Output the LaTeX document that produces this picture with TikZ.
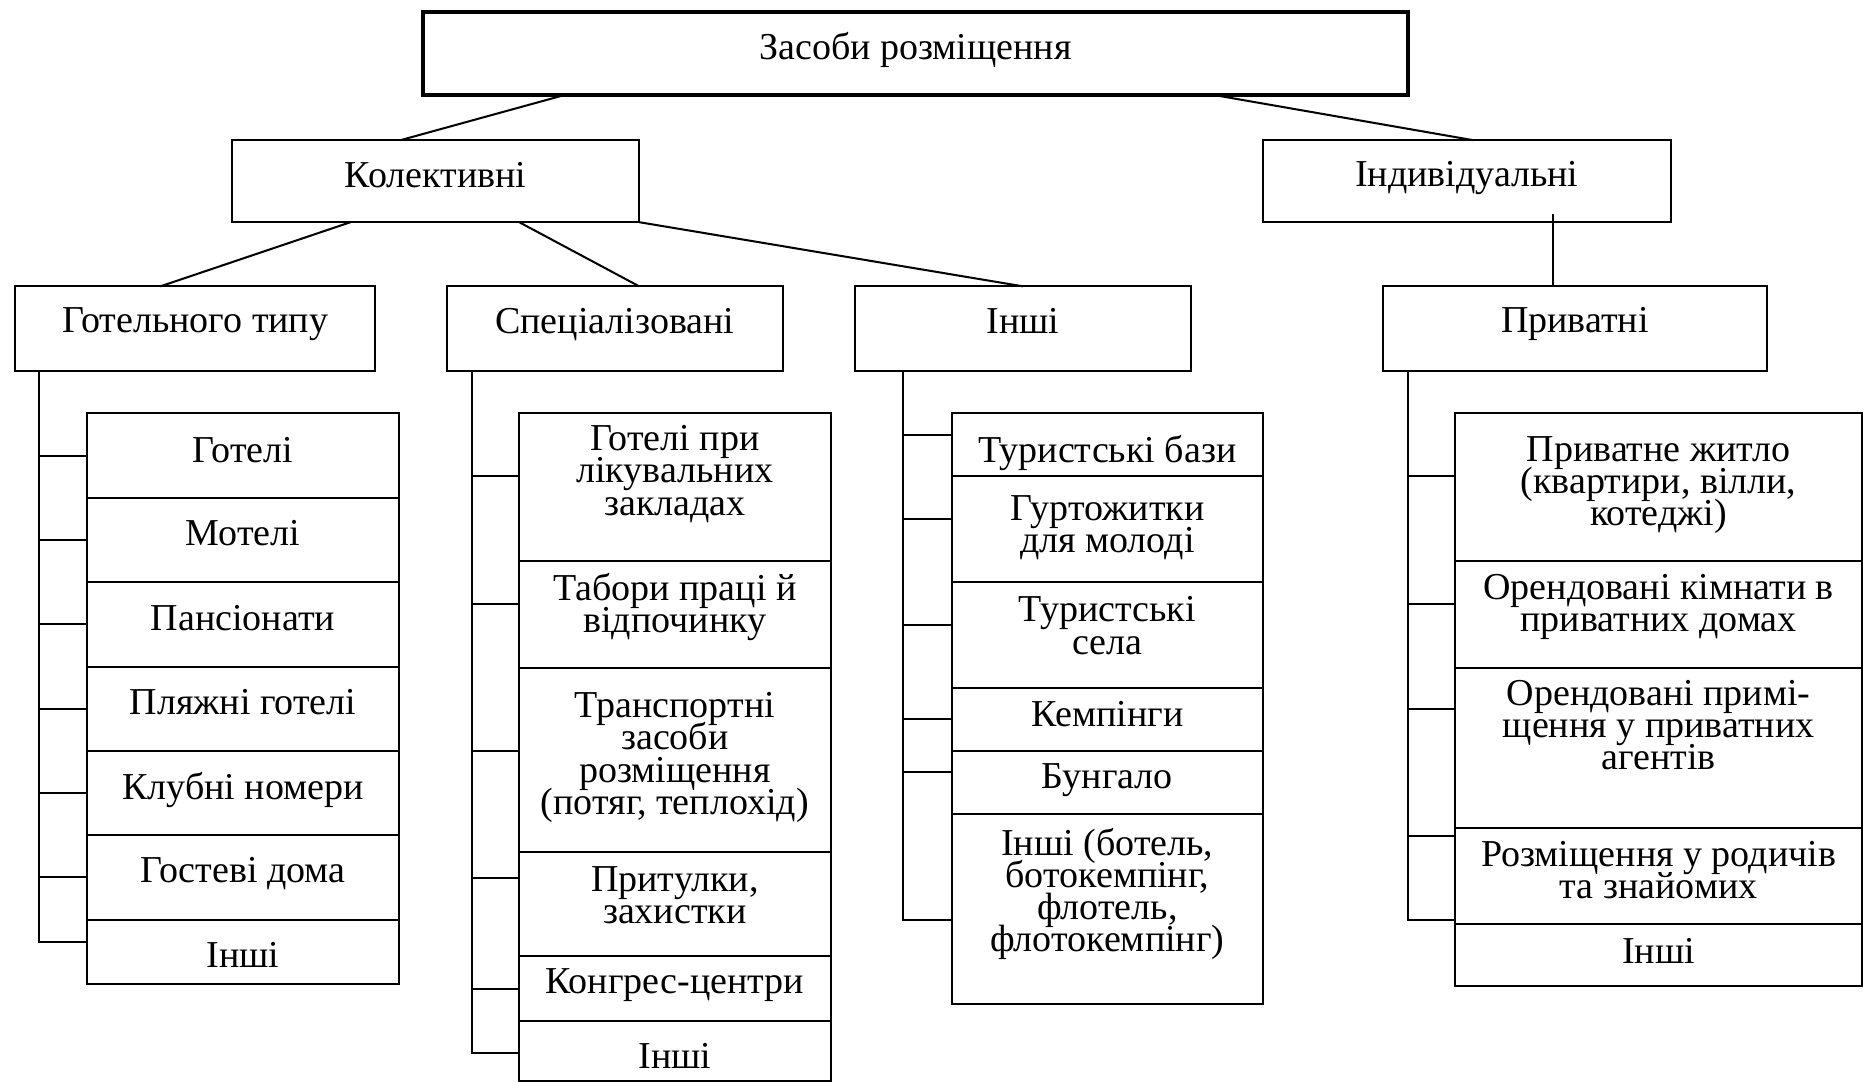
\documentclass[tikz,border=0pt]{standalone}
\usepackage{fontspec}
\setmainfont{Liberation Serif}
\setlength{\lineskiplimit}{-50pt}
\tikzset{
  cell/.style = {draw, line width=1.7pt, inner sep=0pt, outer sep=0pt},
  colA/.style = {cell, minimum width=263pt},
  colB/.style = {cell, minimum width=262pt},
  colC/.style = {cell, minimum width=262pt},
  colD/.style = {cell, minimum width=342pt},
  txt/.style = {font=\fontsize{32}{27}\selectfont, align=center, inner sep=0pt},
  link/.style = {line width=1.7pt}
}

\begin{document}
\begin{tikzpicture}[x=1pt, y=-1pt]
    \useasboundingbox (0,0) rectangle (1568,911);
    % top levels
    \node[cell, line width=3pt, minimum width=829pt, minimum height=70pt] (root) at (770.5,45) {};
    \node[txt] (roott) at ([yshift=3pt]root.center) {Засоби розміщення};
    \node[cell, minimum width=343pt, minimum height=69pt] (kol) at (366.5,152.5) {};
    \node[txt] (kolt) at ([yshift=5.5pt]kol.center) {Колективні};
    \node[cell, minimum width=343pt, minimum height=69pt] (ind) at (1234.5,152.5) {};
    \node[txt] (indt) at ([yshift=2.5pt]ind.center) {Індивідуальні};
    \node[cell, minimum width=303pt, minimum height=71pt] (got) at (164.5,276.5) {};
    \node[txt] (gott) at ([yshift=3.5pt]got.center) {Готельного типу};
    \node[cell, minimum width=283pt, minimum height=71pt] (spe) at (517.5,276.5) {};
    \node[txt] (spet) at ([yshift=3.5pt]spe.center) {Спеціалізовані};
    \node[cell, minimum width=282pt, minimum height=71pt] (inshi) at (861,276.5) {};
    \node[txt] (inshit) at ([yshift=6.5pt]inshi.center) {Інші};
    \node[cell, minimum width=323pt, minimum height=71pt] (pryv) at (1325.5,276.5) {};
    \node[txt] (pryvt) at ([yshift=3.5pt]pryv.center) {Приватні};

    \draw[link] ([xshift=119pt]root.south west) -- ([xshift=142pt]kol.north west);
    \draw[link] ([xshift=-163pt]root.south east) -- ([xshift=5.5pt]ind.north);
    \draw[link] ([xshift=100pt]kol.south west) -- ([xshift=122pt]got.north west);
    \draw[link] ([xshift=70.5pt]kol.south) -- ([xshift=20.5pt]spe.north);
    \draw[link] (kol.south east) -- (inshi.north);
    \draw[link] ([xshift=-18.5pt]pryv.north) -- ([xshift=-18.5pt, yshift=7pt]pryv.north |- ind.south);

    % hotel type
    \node[colA, minimum height=71pt] (g1) at (204.5,383.5) {};
    \node[txt] (g1t) at ([yshift=5pt]g1.center) {Готелі};
    \node[colA, minimum height=71pt] (g2) at (204.5,454.5) {};
    \node[txt] (g2t) at ([yshift=6pt]g2.center) {Мотелі};
    \node[colA, minimum height=71pt] (g3) at (204.5,525.5) {};
    \node[txt] (g3t) at ([yshift=5pt]g3.center) {Пансіонати};
    \node[colA, minimum height=71pt] (g4) at (204.5,596.5) {};
    \node[txt] (g4t) at ([yshift=6pt]g4.center) {Пляжні готелі};
    \node[colA, minimum height=71pt] (g5) at (204.5,667.5) {};
    \node[txt] (g5t) at ([yshift=3pt]g5.center) {Клубні номери};
    \node[colA, minimum height=71pt] (g6) at (204.5,738.5) {};
    \node[txt] (g6t) at ([yshift=3pt]g6.center) {Гостеві дома};
    \node[colA, minimum height=54pt] (g7) at (204.5,801) {};
    \node[txt] (g7t) at ([yshift=-3pt]g7.center) {Інші};

    \coordinate (t1) at ([xshift=20pt]got.south west);
    \draw[link] (g1.west) -- (g1.west -| t1);
    \draw[link] (g2.west) -- (g2.west -| t1);
    \draw[link] (g3.west) -- (g3.west -| t1);
    \draw[link] (g4.west) -- (g4.west -| t1);
    \draw[link] (g5.west) -- (g5.west -| t1);
    \draw[link] (g6.west) -- (g6.west -| t1);
    \draw[link] (t1) |- ([yshift=8pt]g7.west);

    % specialised
    \node[colB, minimum height=124pt] (s1) at (568,410) {};
    \node[txt] (s1t) at ([yshift=11pt]s1.center) {Готелі при\\лікувальних\\закладах};
    \node[colB, minimum height=90pt] (s2) at (568,517) {};
    \node[txt] (s2t) at ([yshift=6.5pt]s2.center) {Табори праці й\\відпочинку};
    \node[colB, minimum height=155pt] (s3) at (568,639.5) {};
    \node[txt] (s3t) at ([yshift=2pt]s3.center) {Транспортні\\засоби\\розміщення\\(потяг, теплохід)};
    \node[colB, minimum height=88pt] (s4) at (568,761) {};
    \node[txt] (s4t) at ([yshift=7.5pt]s4.center) {Притулки,\\захистки};
    \node[colB, minimum height=54pt] (s5) at (568,832) {};
    \node[txt] (s5t) at ([yshift=2.5pt]s5.center) {Конгрес-центри};
    \node[colB, minimum height=51pt] (s6) at (568,884.5) {};
    \node[txt] (s6t) at ([yshift=-4pt]s6.center) {Інші};

    \coordinate (t2) at ([xshift=21pt]spe.south west);
    \draw[link] ([yshift=9pt]s1.west) -- ([yshift=9pt]s1.west -| t2);
    \draw[link] ([yshift=9pt]s2.west) -- ([yshift=9pt]s2.west -| t2);
    \draw[link] ([yshift=7.5pt]s3.west) -- ([yshift=7.5pt]s3.west -| t2);
    \draw[link] ([yshift=22pt]s4.west) -- ([yshift=22pt]s4.west -| t2);
    \draw[link] (s5.west) -- (s5.west -| t2);
    \draw[link] (t2) |- ([yshift=-2pt]s6.west);

    % other collective
    \node[colC, minimum height=53pt] (o1) at (932,374.5) {};
    \node[txt] (o1t) at ([yshift=-6.5pt]o1.center) {Туристські бази};
    \node[colC, minimum height=89pt] (o2) at (932,445.5) {};
    \node[txt] (o2t) at ([yshift=1pt]o2.center) {Гуртожитки\\для молоді};
    \node[colC, minimum height=89pt] (o3) at (932,534.5) {};
    \node[txt] (o3t) at ([yshift=8pt]o3.center) {Туристські\\села};
    \node[colC, minimum height=53pt] (o4) at (932,605.5) {};
    \node[txt] (o4t) at ([yshift=4.5pt]o4.center) {Кемпінги};
    \node[colC, minimum height=53pt] (o5) at (932,658.5) {};
    \node[txt] (o5t) at ([yshift=1.5pt]o5.center) {Бунгало};
    \node[colC, minimum height=160pt] (o6) at (932,765) {};
    \node[txt] (o6t) at ([yshift=12.5pt]o6.center) {Інші (ботель,\\ботокемпінг,\\флотель,\\флотокемпінг)};

    \coordinate (t3) at ([xshift=40pt]inshi.south west);
    \draw[link] ([yshift=8.5pt]o1.west) -- ([yshift=8.5pt]o1.west -| t3);
    \draw[link] ([yshift=8.5pt]o2.west) -- ([yshift=8.5pt]o2.west -| t3);
    \draw[link] ([yshift=8.5pt]o3.west) -- ([yshift=8.5pt]o3.west -| t3);
    \draw[link] (o4.west) -- (o4.west -| t3);
    \draw[link] ([yshift=8.5pt]o5.west) -- ([yshift=8.5pt]o5.west -| t3);
    \draw[link] (t3) |- ([yshift=-9pt]o6.west);

    % private
    \node[colD, minimum height=124pt] (p1) at (1396,410) {};
    \node[txt] (p1t) at ([yshift=2pt]p1.center) {Приватне житло\\(квартири, вілли,\\котеджі)};
    \node[colD, minimum height=90pt] (p2) at (1396,517) {};
    \node[txt] (p2t) at ([yshift=6.5pt]p2.center) {Орендовані кімнати в\\приватних домах};
    \node[colD, minimum height=135pt] (p3) at (1396,629.5) {};
    \node[txt] (p3t) at ([yshift=19pt]p3.center) {Орендовані примі-\\щення у приватних\\агентів};
    \node[colD, minimum height=81pt] (p4) at (1396,737.5) {};
    \node[txt] (p4t) at ([yshift=5pt]p4.center) {Розміщення у родичів\\та знайомих};
    \node[colD, minimum height=52pt] (p5) at (1396,804) {};
    \node[txt] (p5t) at ([yshift=4pt]p5.center) {Інші};

    \coordinate (t4) at ([xshift=21pt]pryv.south west);
    \draw[link] ([yshift=9pt]p1.west) -- ([yshift=9pt]p1.west -| t4);
    \draw[link] ([yshift=9pt]p2.west) -- ([yshift=9pt]p2.west -| t4);
    \draw[link] ([yshift=32.5pt]p3.west) -- ([yshift=32.5pt]p3.west -| t4);
    \draw[link] ([yshift=33.5pt]p4.west) -- ([yshift=33.5pt]p4.west -| t4);
    \draw[link] (t4) |- ([yshift=30pt]p5.west);
\end{tikzpicture}
\end{document}
